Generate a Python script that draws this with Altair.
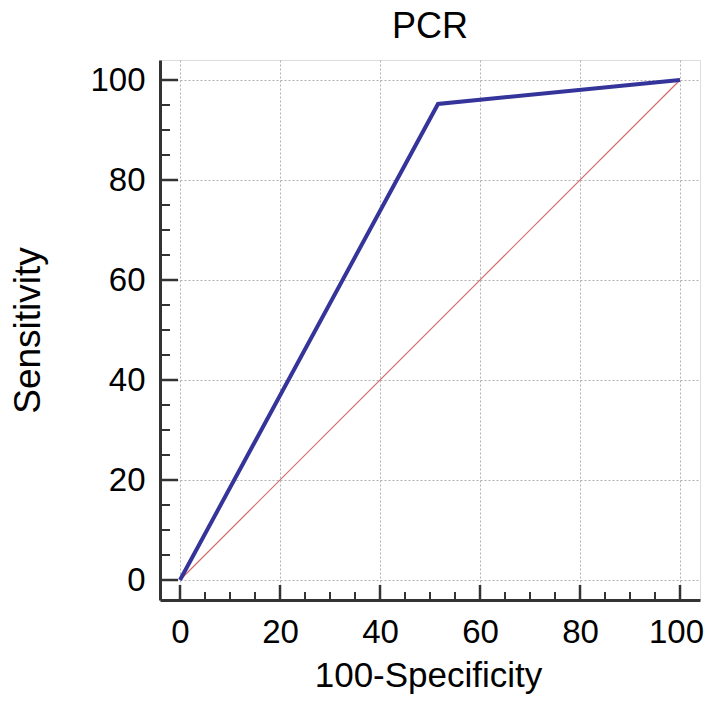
import altair as alt
import pandas as pd

# ROC curve points (100-Specificity, Sensitivity)
fpr = [0, 51.6, 100]
tpr = [0, 95.2, 100]
# reference diagonal
ref_x = [0, 100]
ref_y = [0, 100]
# ticks
major_ticks = [0, 20, 40, 60, 80, 100]
minor_ticks = [5, 10, 15, 25, 30, 35, 45, 50, 55, 65, 70, 75, 85, 90, 95]

LO, HI = -4, 104
FONT = "Liberation Sans"
AXIS_COLOR = "#333333"

xs = alt.Scale(domain=[LO, HI], nice=False, zero=False)
ys = alt.Scale(domain=[LO, HI], nice=False, zero=False)

roc = pd.DataFrame({"x": fpr, "y": tpr})
diag = pd.DataFrame({"x": ref_x, "y": ref_y})
maj = pd.DataFrame({"v": major_ticks})
mnr = pd.DataFrame({"v": minor_ticks})

xaxis = alt.Axis(
    values=major_ticks, grid=True, ticks=False, tickSize=0,
    domainWidth=3, domainColor=AXIS_COLOR,
    labelFontSize=33, labelPadding=16, labelColor="black", labelFont=FONT,
    labelFlush=False, labelOverlap=False,
    labelOffset=alt.ExprRef("datum.value == 100 ? -4 : 0"),
    title="100-Specificity", titleFontSize=35, titleFontWeight="normal",
    titleColor="black", titleFont=FONT, titleX=268, titleY=86,
    titleBaseline="alphabetic", titleAlign="center",
    gridColor="#b0b0b0", gridDash=[2, 2], gridWidth=1,
)
yaxis = alt.Axis(
    values=major_ticks, grid=True, ticks=False, tickSize=0,
    domainWidth=3, domainColor=AXIS_COLOR,
    labelFontSize=33, labelPadding=15, labelColor="black", labelFont=FONT,
    labelFlush=False, labelOverlap=False,
    title="Sensitivity", titleFontSize=37, titleFontWeight="normal",
    titleColor="black", titleFont=FONT, titleX=-121, titleY=270,
    titleAngle=270, titleBaseline="alphabetic", titleAlign="center",
    gridColor="#b0b0b0", gridDash=[2, 2], gridWidth=1,
)

diag_layer = alt.Chart(diag).mark_line(color="#d46a6a", strokeWidth=1.2).encode(
    x=alt.X("x:Q", scale=xs, axis=xaxis),
    y=alt.Y("y:Q", scale=ys, axis=yaxis),
)

roc_layer = alt.Chart(roc).mark_line(color="#34349a", strokeWidth=4).encode(
    x=alt.X("x:Q", scale=xs, axis=xaxis),
    y=alt.Y("y:Q", scale=ys, axis=yaxis),
)

def xticks(df, length, width):
    return alt.Chart(df).transform_calculate(
        a=str(LO), b=str(LO + length)
    ).mark_rule(color=AXIS_COLOR, strokeWidth=width).encode(
        x=alt.X("v:Q", scale=xs, axis=xaxis),
        y=alt.Y("a:Q", scale=ys, axis=yaxis),
        y2="b:Q",
    )

def yticks(df, length, width):
    return alt.Chart(df).transform_calculate(
        a=str(LO), b=str(LO + length)
    ).mark_rule(color=AXIS_COLOR, strokeWidth=width).encode(
        y=alt.Y("v:Q", scale=ys, axis=yaxis),
        x=alt.X("a:Q", scale=xs, axis=xaxis),
        x2="b:Q",
    )

chart = alt.layer(
    diag_layer,
    roc_layer,
    xticks(maj, 3.0, 2.5),
    xticks(mnr, 1.6, 2),
    yticks(maj, 3.6, 2.5),
    yticks(mnr, 2.0, 2),
).properties(
    width=540,
    height=540,
    title=alt.TitleParams(
        "PCR", fontSize=36, font=FONT, fontWeight="normal", color="black",
        anchor="middle", offset=0, dy=14, baseline="alphabetic",
    ),
    autosize=alt.AutoSizeParams(type="none"),
    padding={"left": 152, "top": 52, "right": 5, "bottom": 94},
).configure_view(strokeWidth=0).configure(background="white")

chart.save("out.html", embed_options={"renderer": "svg", "actions": False})
